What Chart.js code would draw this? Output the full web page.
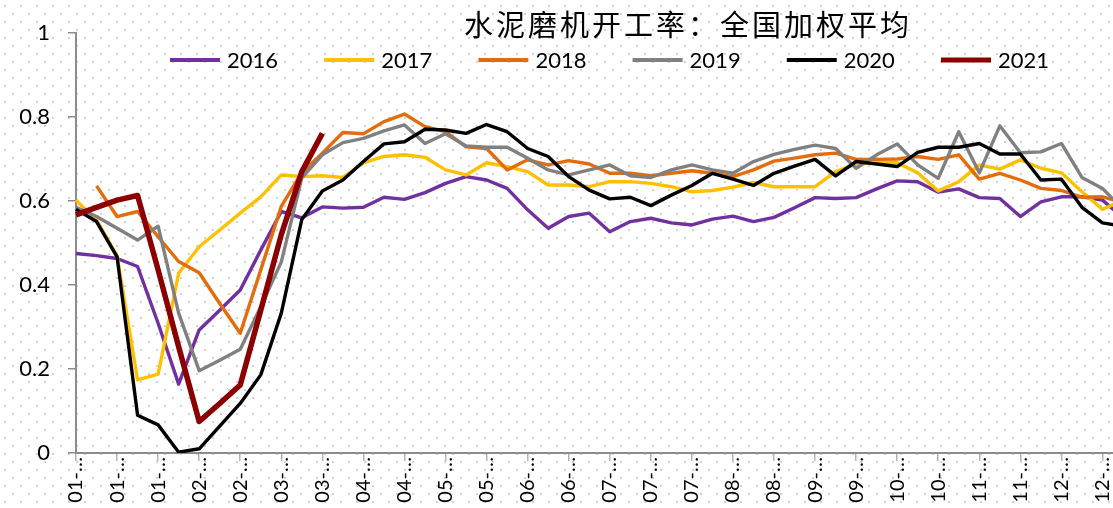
<!DOCTYPE html>
<html>
<head>
<meta charset="utf-8">
<script src="https://cdn.jsdelivr.net/npm/chart.js@4"></script>
<style>
    html, body {
        margin: 0;
        padding: 0;
        width: 1113px;
        height: 508px;
        overflow: hidden;
        background-color: #ffffff;
        background-image: url("data:image/svg+xml,%3Csvg xmlns='http://www.w3.org/2000/svg' width='16' height='16'%3E%3Crect x='12' y='13' width='2' height='2' fill='%23d2d2d2'/%3E%3Crect x='4' y='5' width='2' height='2' fill='%23d2d2d2'/%3E%3C/svg%3E");
    }
    canvas { display: block; }
</style>
</head>
<body>
<canvas id="chart" width="1123" height="508"></canvas>
<script>
const chartTitle = '水泥磨机开工率：全国加权平均';

// weekly dates, one label every second week is shown
const weekLabels = [
    '01-01', '01-08', '01-15', '01-22', '01-29',
    '02-05', '02-12', '02-19', '02-26',
    '03-05', '03-12', '03-19', '03-26',
    '04-02', '04-09', '04-16', '04-23', '04-30',
    '05-07', '05-14', '05-21', '05-28',
    '06-04', '06-11', '06-18', '06-25',
    '07-02', '07-09', '07-16', '07-23', '07-30',
    '08-06', '08-13', '08-20', '08-27',
    '09-03', '09-10', '09-17', '09-24',
    '10-01', '10-08', '10-15', '10-22', '10-29',
    '11-05', '11-12', '11-19', '11-26',
    '12-03', '12-10', '12-17', '12-24',
];

const yearNames = ['2016', '2017', '2018', '2019', '2020', '2021'];
const yearColors = ['#7030a0', '#ffc000', '#e46c0a', '#808080', '#000000', '#8b0000'];
const yearWidths = [3.4, 3.4, 3.4, 3.4, 3.4, 5.5];

const data2016 = [
    0.475, 0.470, 0.463, 0.444, 0.309, 0.164, 0.293, 0.340, 0.388, 0.483,
    0.575, 0.560, 0.586, 0.583, 0.585, 0.609, 0.604, 0.620, 0.642, 0.658,
    0.650, 0.630, 0.579, 0.535, 0.563, 0.571, 0.527, 0.551, 0.559, 0.548,
    0.543, 0.557, 0.564, 0.551, 0.561, 0.584, 0.608, 0.606, 0.608, 0.629,
    0.648, 0.646, 0.621, 0.629, 0.608, 0.606, 0.563, 0.598, 0.610, 0.610,
    0.602, 0.560,
];
const data2017 = [
    0.602, 0.555, 0.470, 0.174, 0.188, 0.428, 0.491, 0.531, 0.571, 0.610,
    0.662, 0.658, 0.660, 0.656, 0.691, 0.706, 0.710, 0.704, 0.674, 0.662,
    0.691, 0.682, 0.670, 0.638, 0.638, 0.634, 0.646, 0.646, 0.642, 0.634,
    0.622, 0.625, 0.633, 0.644, 0.634, 0.634, 0.634, 0.670, 0.688, 0.691,
    0.691, 0.667, 0.624, 0.646, 0.686, 0.676, 0.698, 0.678, 0.667, 0.622,
    0.580, 0.602,
];
const data2018 = [
    null, 0.636, 0.563, 0.575, 0.515, 0.456, 0.429, 0.356, 0.285, 0.436,
    0.587, 0.668, 0.714, 0.763, 0.760, 0.789, 0.807, 0.777, 0.765, 0.729,
    0.725, 0.674, 0.698, 0.686, 0.696, 0.688, 0.666, 0.666, 0.660, 0.666,
    0.672, 0.666, 0.658, 0.674, 0.695, 0.702, 0.710, 0.714, 0.699, 0.699,
    0.700, 0.706, 0.699, 0.710, 0.652, 0.666, 0.650, 0.630, 0.625, 0.609,
    0.610, 0.597,
];
const data2019 = [
    0.585, 0.563, 0.535, 0.507, 0.540, 0.333, 0.196, 0.221, 0.247, 0.348,
    0.455, 0.655, 0.710, 0.739, 0.749, 0.767, 0.781, 0.737, 0.760, 0.731,
    0.728, 0.728, 0.702, 0.674, 0.662, 0.674, 0.686, 0.660, 0.656, 0.674,
    0.686, 0.674, 0.666, 0.694, 0.711, 0.723, 0.733, 0.725, 0.678, 0.710,
    0.736, 0.686, 0.654, 0.765, 0.667, 0.779, 0.715, 0.717, 0.737, 0.656,
    0.630, 0.580,
];
const data2020 = [
    0.580, 0.551, 0.467, 0.090, 0.067, 0.002, 0.010, 0.064, 0.118, 0.186,
    0.333, 0.556, 0.624, 0.650, 0.694, 0.736, 0.741, 0.771, 0.769, 0.761,
    0.782, 0.765, 0.725, 0.706, 0.658, 0.626, 0.605, 0.609, 0.589, 0.614,
    0.637, 0.666, 0.652, 0.637, 0.666, 0.683, 0.699, 0.660, 0.694, 0.688,
    0.682, 0.716, 0.728, 0.728, 0.737, 0.712, 0.712, 0.650, 0.652, 0.585,
    0.548, 0.540,
];
const data2021 = [
    0.567, 0.585, 0.602, 0.613, 0.436, 0.253, 0.075, 0.118, 0.162, 0.340,
    0.520, 0.670, 0.761,
];

const yearSeries = [data2016, data2017, data2018, data2019, data2020, data2021];
const yTicks = [0, 0.2, 0.4, 0.6, 0.8, 1];

const axisGray = '#8c8c8c';
const labelFont = 'Lato, "Open Sans", sans-serif';

// title and legend sit inside the plot area in the original, so they are drawn here
const titleLegendPlugin = {
    id: 'titleLegend',
    afterDraw: (chart) => {
        const { ctx } = chart;
        ctx.save();
        ctx.fillStyle = '#000';
        ctx.textBaseline = 'middle';
        ctx.textAlign = 'left';
        ctx.font = '29px "Noto Sans CJK SC", sans-serif';
        if ('letterSpacing' in ctx) ctx.letterSpacing = '3px';
        ctx.fillText(chartTitle, 464, 25);
        if ('letterSpacing' in ctx) ctx.letterSpacing = '0px';

        ctx.font = '22px ' + labelFont;
        chart.data.datasets.forEach((ds, i) => {
            const x0 = 170 + 154.2 * i;
            ctx.strokeStyle = ds.borderColor;
            ctx.lineWidth = i === 5 ? 5 : 4;
            ctx.beginPath();
            ctx.moveTo(x0, 60);
            ctx.lineTo(x0 + 50, 60);
            ctx.stroke();
            ctx.fillText(ds.label, x0 + 57, 61);
        });
        ctx.restore();
    },
};

const ctx = document.getElementById('chart').getContext('2d');
new Chart(ctx, {
    type: 'line',
    data: {
        labels: weekLabels,
        datasets: yearSeries.map((values, i) => ({
            label: yearNames[i],
            data: values,
            borderColor: yearColors[i],
            backgroundColor: yearColors[i],
            borderWidth: yearWidths[i],
            pointRadius: 0,
            tension: 0,
            fill: false,
            borderJoinStyle: 'round',
            spanGaps: false,
            order: yearNames.length - i,
        })),
    },
    options: {
        responsive: false,
        animation: false,
        layout: { padding: { top: 33, right: 0, bottom: 0, left: 0 } },
        plugins: {
            legend: { display: false },
            title: { display: false },
            tooltip: { enabled: false },
        },
        scales: {
            x: {
                type: 'category',
                offset: false,
                afterBuildTicks: (scale) => {
                    scale.ticks = scale.ticks.filter((t) => t.value % 2 === 0);
                },
                afterFit: (scale) => {
                    scale.height = 55;
                },
                grid: {
                    drawOnChartArea: false,
                    drawTicks: true,
                    tickLength: 8,
                    color: '#b4b4b4',
                    lineWidth: 1.5,
                },
                border: { color: axisGray, width: 2 },
                ticks: {
                    autoSkip: false,
                    maxRotation: 90,
                    minRotation: 90,
                    padding: -4,
                    color: '#000',
                    font: { family: labelFont, size: 20 },
                    callback: (value) => weekLabels[value].slice(0, 3) + '…',
                },
            },
            y: {
                min: 0,
                max: 1,
                afterBuildTicks: (scale) => {
                    scale.ticks = yTicks.map((v) => ({ value: v }));
                },
                afterFit: (scale) => {
                    scale.width = 76;
                },
                grid: {
                    drawOnChartArea: false,
                    drawTicks: true,
                    tickLength: 8,
                    color: axisGray,
                    lineWidth: 1.5,
                },
                border: { color: axisGray, width: 2 },
                ticks: {
                    padding: 18,
                    color: '#000',
                    font: { family: labelFont, size: 22 },
                    callback: (value) => String(Math.round(value * 10) / 10),
                },
            },
        },
    },
    plugins: [titleLegendPlugin],
});
</script>
</body>
</html>
